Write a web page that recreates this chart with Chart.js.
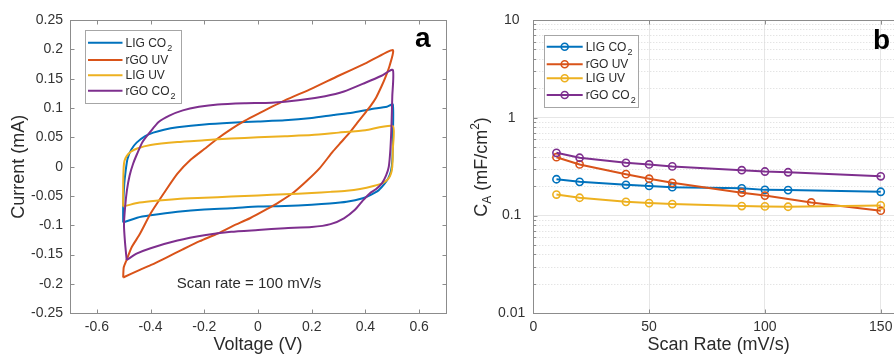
<!DOCTYPE html>
<html><head><meta charset="utf-8">
<script src="https://cdn.jsdelivr.net/npm/chart.js@4"></script>
<style>
html,body{margin:0;padding:0;background:#fff;overflow:hidden;width:894px;height:356px;position:relative;}
#wa{position:absolute;left:0;top:0;width:450px;height:356px;}
#wb{position:absolute;left:450px;top:0;width:460px;height:356px;}
</style></head><body>
<div id="wa"><canvas id="ca"></canvas></div>
<div id="wb"><canvas id="cb"></canvas></div>
<script>
// ---------- data ----------
const seriesNames = [['LIG CO','2'],['rGO UV',''],['LIG UV',''],['rGO CO','2']];
const seriesColors = ['#0072BD','#D95319','#EDB120','#7E2F8E'];

const voltageTicks = [-0.6,-0.4,-0.2,0,0.2,0.4,0.6];
const currentTicks = [-0.25,-0.2,-0.15,-0.1,-0.05,0,0.05,0.1,0.15,0.2,0.25];
const rateTicks = [0,50,100,150];
const capTicks = [0.01,0.1,1,10];
const capMinor = [0.02,0.03,0.04,0.05,0.06,0.07,0.08,0.09,0.2,0.3,0.4,0.5,0.6,0.7,0.8,0.9,2,3,4,5,6,7,8,9];

// CV loops: [voltage (V), current (mA)]
const cvLigCO2 = [[-0.502,-0.095],[-0.502,-0.068],[-0.498,-0.03],[-0.493,-0.008],[-0.486,0.013],[-0.472,0.029],[-0.452,0.041],[-0.42,0.052],[-0.39,0.058],[-0.35,0.063],[-0.3,0.067],[-0.2,0.072],[-0.1,0.075],[0,0.077],[0.1,0.079],[0.2,0.083],[0.28,0.088],[0.35,0.092],[0.42,0.098],[0.48,0.102],[0.502,0.106],
  [0.502,0.05],[0.5,0.01],[0.495,-0.008],[0.485,-0.02],[0.47,-0.03],[0.45,-0.04],[0.42,-0.048],[0.39,-0.054],[0.33,-0.06],[0.267,-0.063],[0.2,-0.065],[0.1,-0.067],[0,-0.068],[-0.1,-0.071],[-0.2,-0.073],[-0.3,-0.077],[-0.4,-0.083],[-0.45,-0.087],[-0.502,-0.095]];
const cvRgoUV = [[-0.502,-0.189],[-0.5,-0.172],[-0.49,-0.16],[-0.47,-0.137],[-0.44,-0.115],[-0.4,-0.08],[-0.35,-0.045],[-0.3,-0.012],[-0.25,0.012],[-0.2,0.03],[-0.15,0.048],[-0.1,0.064],[-0.05,0.078],[0,0.09],[0.1,0.113],[0.2,0.133],[0.3,0.155],[0.4,0.176],[0.502,0.199],
  [0.49,0.172],[0.475,0.153],[0.46,0.137],[0.44,0.118],[0.42,0.104],[0.403,0.094],[0.37,0.075],[0.341,0.058],[0.31,0.042],[0.279,0.026],[0.229,-0.003],[0.18,-0.025],[0.13,-0.045],[0.08,-0.06],[0.031,-0.073],[-0.03,-0.088],[-0.093,-0.101],[-0.15,-0.114],[-0.217,-0.127],[-0.28,-0.141],[-0.341,-0.155],[-0.4,-0.168],[-0.44,-0.176],[-0.502,-0.189]];
const cvLigUV = [[-0.502,-0.068],[-0.502,-0.03],[-0.5,0.0],[-0.497,0.01],[-0.489,0.018],[-0.475,0.025],[-0.45,0.031],[-0.4,0.037],[-0.3,0.042],[-0.2,0.045],[-0.1,0.048],[0,0.05],[0.1,0.052],[0.2,0.054],[0.3,0.058],[0.4,0.062],[0.502,0.069],
  [0.502,0.03],[0.5,0.0],[0.495,-0.012],[0.485,-0.021],[0.465,-0.028],[0.43,-0.033],[0.38,-0.038],[0.33,-0.041],[0.27,-0.043],[0.2,-0.045],[0.1,-0.047],[0,-0.049],[-0.1,-0.051],[-0.2,-0.053],[-0.3,-0.055],[-0.4,-0.059],[-0.45,-0.062],[-0.502,-0.068]];
const cvRgoCO2 = [[-0.489,-0.159],[-0.495,-0.13],[-0.499,-0.1],[-0.495,-0.07],[-0.488,-0.04],[-0.478,-0.015],[-0.465,0.005],[-0.45,0.022],[-0.43,0.042],[-0.4,0.06],[-0.37,0.076],[-0.33,0.087],[-0.28,0.096],[-0.22,0.102],[-0.15,0.106],[-0.05,0.108],[0.05,0.109],[0.15,0.113],[0.25,0.12],[0.32,0.128],[0.4,0.143],[0.46,0.155],[0.502,0.165],
  [0.5,0.12],[0.497,0.07],[0.493,0.03],[0.487,0.0],[0.477,-0.015],[0.462,-0.028],[0.44,-0.038],[0.415,-0.046],[0.39,-0.058],[0.36,-0.074],[0.32,-0.088],[0.27,-0.098],[0.2,-0.103],[0.1,-0.105],[0,-0.108],[-0.1,-0.111],[-0.2,-0.117],[-0.3,-0.126],[-0.4,-0.139],[-0.45,-0.148],[-0.489,-0.159]];

// Areal capacitance vs scan rate
const scanRates = [10,20,40,50,60,90,100,110,150];
const scanRatesRgoUV = [10,20,40,50,60,90,100,120,150];
const capLigCO2 = [0.235,0.221,0.206,0.201,0.195,0.190,0.183,0.182,0.175];
const capRgoUV  = [0.395,0.333,0.265,0.238,0.216,0.171,0.160,0.136,0.112];
const capLigUV  = [0.164,0.152,0.138,0.134,0.131,0.125,0.124,0.123,0.127];
const capRgoCO2 = [0.438,0.390,0.346,0.333,0.318,0.291,0.282,0.277,0.252];

// ---------- helpers ----------
const FONT = '"Liberation Sans", Arial, Helvetica, sans-serif';
Chart.defaults.font.family = FONT;
Chart.defaults.color = '#333';
const TXT = '#2b2b2b';
const fmtTick = v => { const r = Math.round(v*100)/100; return r === 0 ? '0' : String(r); };

const framePlugin = {
  id: 'frame',
  beforeDatasetsDraw(chart) {
    const o = chart.options.plugins.frame; if (!o || !o.minor) return;
    const {ctx, chartArea: a, scales: {y}} = chart;
    ctx.save();
    ctx.strokeStyle = o.minorColor; ctx.lineWidth = 1; ctx.setLineDash([1, 2]);
    o.minor.forEach(v => {
      const p = Math.round(y.getPixelForValue(v)) + 0.5;
      ctx.beginPath(); ctx.moveTo(a.left, p); ctx.lineTo(a.right, p); ctx.stroke();
    });
    ctx.restore();
  },
  afterDraw(chart) {
    const o = chart.options.plugins.frame; if (!o) return;
    const {ctx, chartArea: a, scales: {x, y}} = chart;
    ctx.save();
    ctx.strokeStyle = o.color; ctx.lineWidth = 1;
    const L = Math.round(a.left) + 0.5, R = Math.round(a.right) + 0.5, T = Math.round(a.top) + 0.5, B = Math.round(a.bottom) + 0.5;
    ctx.beginPath();
    x.ticks.forEach(t => { const p = Math.round(x.getPixelForValue(t.value)) + 0.5; ctx.moveTo(p, B); ctx.lineTo(p, B - o.tickLen); ctx.moveTo(p, T); ctx.lineTo(p, T + o.tickLen); });
    y.ticks.forEach(t => { const p = Math.round(y.getPixelForValue(t.value)) + 0.5; ctx.moveTo(L, p); ctx.lineTo(L + o.tickLen, p); ctx.moveTo(R, p); ctx.lineTo(R - o.tickLen, p); });
    (o.minor || []).forEach(v => { const p = Math.round(y.getPixelForValue(v)) + 0.5; ctx.moveTo(L, p); ctx.lineTo(L + o.minorLen, p); ctx.moveTo(R, p); ctx.lineTo(R - o.minorLen, p); });
    ctx.stroke();
    ctx.strokeRect(L, T, R - L, B - T);
    ctx.restore();
  }
};

const legendPlugin = {
  id: 'boxLegend',
  afterDraw(chart) {
    const o = chart.options.plugins.boxLegend; if (!o) return;
    const ctx = chart.ctx;
    ctx.save();
    ctx.fillStyle = '#fff'; ctx.fillRect(o.x, o.y, o.w, o.h);
    ctx.strokeStyle = '#a6a6a6'; ctx.lineWidth = 1;
    ctx.strokeRect(Math.round(o.x) + 0.5, Math.round(o.y) + 0.5, Math.round(o.w), Math.round(o.h));
    chart.data.datasets.forEach((ds, i) => {
      const ry = o.rows[i];
      ctx.strokeStyle = ds.borderColor; ctx.lineWidth = 2;
      ctx.beginPath(); ctx.moveTo(o.lx0, ry); ctx.lineTo(o.lx1, ry); ctx.stroke();
      if (o.marker) {
        ctx.lineWidth = 1.6;
        ctx.beginPath(); ctx.arc((o.lx0 + o.lx1) / 2, ry, 3.5, 0, Math.PI * 2); ctx.stroke();
      }
      const nm = seriesNames[i];
      ctx.fillStyle = TXT; ctx.textBaseline = 'middle'; ctx.textAlign = 'left';
      ctx.font = '12px ' + FONT;
      ctx.fillText(nm[0], o.tx, ry + 0.5);
      if (nm[1]) {
        const w = ctx.measureText(nm[0]).width;
        ctx.font = '9px ' + FONT;
        ctx.fillText(nm[1], o.tx + w + 1, ry + 6);
      }
    });
    ctx.restore();
  }
};

const notePlugin = {
  id: 'notes',
  afterDraw(chart) {
    const o = chart.options.plugins.notes; if (!o) return;
    const ctx = chart.ctx;
    ctx.save();
    o.items.forEach(it => {
      ctx.font = it.font; ctx.fillStyle = it.color || TXT;
      ctx.textAlign = it.align || 'left'; ctx.textBaseline = 'alphabetic';
      ctx.fillText(it.text, it.x, it.y);
    });
    if (o.yTitle) {
      const t = o.yTitle;
      ctx.translate(t.x, t.y); ctx.rotate(-Math.PI / 2);
      ctx.textBaseline = 'middle'; ctx.textAlign = 'left'; ctx.fillStyle = TXT;
      const big = '18px ' + FONT, small = '12px ' + FONT;
      const parts = [['C', big, 0], ['A', small, 5], [' (mF/cm', big, 0], ['2', small, -7], [')', big, 0]];
      let total = 0;
      parts.forEach(p => { ctx.font = p[1]; total += ctx.measureText(p[0]).width; });
      let cx = -total / 2;
      parts.forEach(p => { ctx.font = p[1]; ctx.fillText(p[0], cx, p[2]); cx += ctx.measureText(p[0]).width; });
    }
    ctx.restore();
  }
};

const toXY = arr => arr.map(p => ({x: p[0], y: p[1]}));
const toPts = (xs, ys) => xs.map((x, i) => ({x, y: ys[i]}));

// ---------- chart a ----------
const cvSets = [cvLigCO2, cvRgoUV, cvLigUV, cvRgoCO2];
new Chart(document.getElementById('ca'), {
  type: 'scatter',
  data: {
    datasets: cvSets.map((d, i) => ({
      label: seriesNames[i].join(''), data: toXY(d), showLine: true,
      borderColor: seriesColors[i], borderWidth: 2, pointRadius: 0, tension: 0.2,
      fill: false, order: 3 - i
    }))
  },
  options: {
    responsive: true, maintainAspectRatio: false, animation: false,
    layout: {padding: {left: 0, right: 4, top: 20, bottom: 0}},
    plugins: {
      legend: {display: false}, tooltip: {enabled: false},
      frame: {color: '#8c8c8c', tickLen: 4},
      boxLegend: {x: 84.5, y: 30, w: 95.5, h: 73, rows: [42.7, 60, 75.3, 90.7], lx0: 88, lx1: 122.5, tx: 125.5, marker: false},
      notes: {items: [
        {text: 'a', x: 415, y: 47, font: 'bold 28px ' + FONT, color: '#000'},
        {text: 'Scan rate = 100 mV/s', x: 249, y: 288.3, align: 'center', font: '15px ' + FONT}
      ]}
    },
    scales: {
      x: {
        type: 'linear', min: -0.7, max: 0.7,
        afterBuildTicks: s => { s.ticks = voltageTicks.map(v => ({value: v})); },
        afterFit: s => { s.height = 42.7; },
        ticks: {callback: v => fmtTick(v), color: '#333', font: {size: 14}, padding: 5, maxRotation: 0, autoSkip: false},
        grid: {display: false, drawTicks: false},
        border: {display: false},
        title: {display: true, text: 'Voltage (V)', color: TXT, font: {size: 18}, padding: {top: 0, bottom: 0}}
      },
      y: {
        type: 'linear', min: -0.25, max: 0.25,
        afterBuildTicks: s => { s.ticks = currentTicks.map(v => ({value: v})); },
        afterFit: s => { s.width = 70; },
        ticks: {callback: v => fmtTick(v), color: '#333', font: {size: 14}, padding: 7, autoSkip: false},
        grid: {display: false, drawTicks: false},
        border: {display: false},
        title: {display: true, text: 'Current (mA)', color: TXT, font: {size: 18}, padding: {top: 8.4, bottom: 0}}
      }
    }
  },
  plugins: [framePlugin, legendPlugin, notePlugin]
});

// ---------- chart b ----------
const capSets = [toPts(scanRates, capLigCO2), toPts(scanRatesRgoUV, capRgoUV), toPts(scanRates, capLigUV), toPts(scanRates, capRgoCO2)];
new Chart(document.getElementById('cb'), {
  type: 'scatter',
  data: {
    datasets: capSets.map((d, i) => ({
      label: seriesNames[i].join(''), data: d, showLine: true,
      borderColor: seriesColors[i], borderWidth: 2, tension: 0,
      pointRadius: 3.6, pointBorderWidth: 1.6, pointBorderColor: seriesColors[i],
      pointBackgroundColor: 'rgba(255,255,255,0)', fill: false, order: 3 - i
    }))
  },
  options: {
    responsive: true, maintainAspectRatio: false, animation: false,
    layout: {padding: {left: 0, right: 6.1, top: 20, bottom: 0}},
    plugins: {
      legend: {display: false}, tooltip: {enabled: false},
      frame: {color: '#8c8c8c', tickLen: 4, minor: capMinor, minorLen: 2.5, minorColor: '#d9d9d9'},
      boxLegend: {x: 94, y: 35, w: 94, h: 72, rows: [46.7, 64.3, 78.3, 95], lx0: 96.7, lx1: 132.7, tx: 135.7, marker: true},
      notes: {
        items: [{text: 'b', x: 423, y: 49, font: 'bold 28px ' + FONT, color: '#000'}],
        yTitle: {x: 32.5, y: 167}
      }
    },
    scales: {
      x: {
        type: 'linear', min: 0, max: 160,
        afterBuildTicks: s => { s.ticks = rateTicks.map(v => ({value: v})); },
        afterFit: s => { s.height = 42.7; },
        ticks: {color: '#333', font: {size: 14}, padding: 5, maxRotation: 0, autoSkip: false},
        grid: {display: true, drawTicks: false, color: '#e6e6e6'},
        border: {display: false},
        title: {display: true, text: 'Scan Rate (mV/s)', color: TXT, font: {size: 18}, padding: {top: 0, bottom: 0}}
      },
      y: {
        type: 'logarithmic', min: 0.01, max: 10,
        afterBuildTicks: s => { s.ticks = capTicks.map(v => ({value: v})); },
        afterFit: s => { s.width = 83.3; },
        ticks: {callback: v => String(v), color: '#333', font: {size: 14}, padding: 8, crossAlign: 'center', autoSkip: false},
        grid: {display: true, drawTicks: false, color: '#e6e6e6'},
        border: {display: false},
        title: {display: false}
      }
    }
  },
  plugins: [framePlugin, legendPlugin, notePlugin]
});
</script>
</body></html>
